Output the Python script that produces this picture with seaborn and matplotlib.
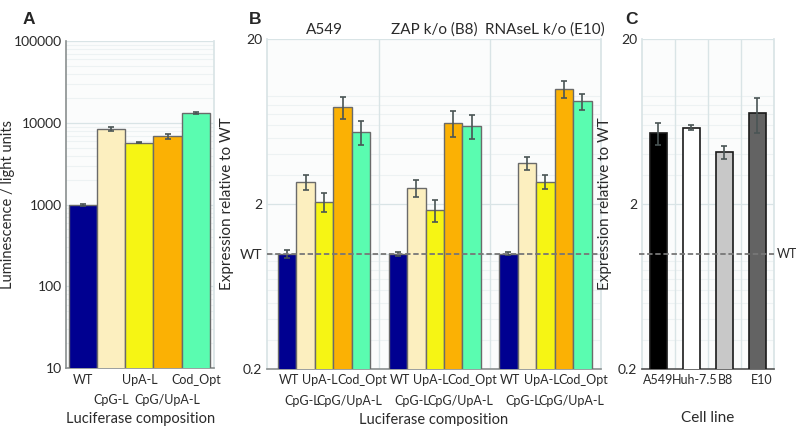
import numpy as np
import pandas as pd
import matplotlib
matplotlib.use('Agg')
import matplotlib.pyplot as plt
import seaborn as sns
from matplotlib.ticker import LogLocator, NullFormatter, FixedLocator

sns.set_theme(style='white')
plt.rcParams['font.family'] = ['Lato', 'DejaVu Sans']
plt.rcParams['font.size'] = 9.5

# constructs and colours
constructs = ['WT', 'CpG-L', 'UpA-L', 'CpG/UpA-L', 'Cod_Opt']
construct_colors = ['#000090', '#fcefbf', '#f6f514', '#fbb104', '#5afcb0']

# panel A: raw luminescence
lum_mean = [985, 8500, 5750, 6850, 13300]
lum_err = [25, 550, 60, 450, 350]

# panel B: expression relative to WT in three cell lines
cell_groups = ['A549', 'ZAP k/o (B8)', 'RNAseL k/o (E10)']
rel_mean = {
    'A549': [1.0, 2.72, 2.06, 7.74, 5.49],
    'ZAP k/o (B8)': [1.0, 2.50, 1.84, 6.20, 5.94],
    'RNAseL k/o (E10)': [1.0, 3.54, 2.74, 9.96, 8.38],
}
rel_err = {
    'A549': [0.06, 0.30, 0.28, 1.15, 0.90],
    'ZAP k/o (B8)': [0.03, 0.30, 0.28, 1.10, 0.95],
    'RNAseL k/o (E10)': [0.02, 0.33, 0.28, 1.20, 0.90],
}

# panel C: Cod_Opt relative to WT per cell line
cell_lines = ['A549', 'Huh-7.5', 'B8', 'E10']
cell_mean = [5.39, 5.82, 4.13, 7.13]
cell_err = [0.85, 0.23, 0.38, 1.70]
cell_colors = ['#000000', '#ffffff', '#c8c8c8', '#636363']

# construct labels alternate between an upper and a lower row
upper = [0, 2, 4]
lower = [1, 3]

txt = '#2a2a2a'
grid_major = '#d9e4e6'
grid_minor = '#edf2f3'
bg = '#fbfcfc'
err_kw = dict(fmt='none', ecolor='#4a5555', elinewidth=1.2, capsize=2.5, capthick=1.2, zorder=5)


def style_log_axis(ax):
    ax.set_facecolor(bg)
    ax.yaxis.set_minor_locator(LogLocator(base=10, subs=np.arange(2, 10)))
    ax.yaxis.set_minor_formatter(NullFormatter())
    ax.grid(True, which='major', axis='y', color=grid_major, lw=0.9)
    ax.grid(True, which='minor', axis='y', color=grid_minor, lw=0.8)
    ax.set_axisbelow(True)
    ax.spines['top'].set_visible(False)
    ax.spines['right'].set_color(grid_major)
    ax.spines['left'].set_color(grid_major)
    ax.spines['bottom'].set_color('#8a8f8f')
    ax.spines['bottom'].set_linewidth(1.2)
    ax.tick_params(axis='y', which='both', length=0, pad=3, labelsize=10, colors=txt)
    ax.tick_params(axis='x', which='major', length=0, pad=4, labelsize=9, colors=txt)
    ax.tick_params(axis='x', which='minor', length=0, pad=19, labelsize=9, colors=txt)


def staggered_labels(ax, centers):
    ax.set_xticks([centers[k] for k in range(len(centers)) if k % 5 in upper])
    ax.set_xticklabels([constructs[k % 5] for k in range(len(centers)) if k % 5 in upper])
    ax.set_xticks([centers[k] for k in range(len(centers)) if k % 5 in lower], minor=True)
    ax.set_xticklabels([constructs[k % 5] for k in range(len(centers)) if k % 5 in lower],
                       minor=True)


fig = plt.figure(figsize=(7.96, 4.26), dpi=100)
axA = fig.add_axes([0.083, 0.136, 0.186, 0.767])
axB = fig.add_axes([0.335, 0.134, 0.4196, 0.774])
axC = fig.add_axes([0.806, 0.134, 0.166, 0.774])

# ---- Panel A
dfA = pd.DataFrame({'construct': constructs, 'lum': lum_mean})
sns.barplot(data=dfA, x='construct', y='lum', hue='construct', palette=construct_colors,
            order=constructs, width=1.0, saturation=1, edgecolor='#6a6a6a', linewidth=1.0,
            legend=False, ax=axA, zorder=3)
axA.set_yscale('log')
axA.set_ylim(10, 100000)
axA.set_xlim(-0.6, 4.65)
style_log_axis(axA)
axA.spines['left'].set_color('#8a8f8f')
axA.spines['left'].set_linewidth(1.2)
axA.tick_params(axis='y', which='major', length=5, direction='in', color='#8a8f8f', width=1)
axA.tick_params(axis='y', which='minor', length=4, direction='in', color='#8a8f8f', width=0.8)
axA.yaxis.set_major_locator(FixedLocator([10, 100, 1000, 10000, 100000]))
axA.set_yticklabels(['10', '100', '1000', '10000', '100000'])
axA.errorbar(np.arange(len(constructs)), lum_mean, yerr=lum_err, **err_kw)
staggered_labels(axA, list(np.arange(len(constructs), dtype=float)))
axA.set_xlabel('Luciferase composition', fontsize=10.5, color=txt, labelpad=4)
axA.set_ylabel('Luminescence / light units', fontsize=10.5, color=txt)
axA.yaxis.set_label_coords(-0.345, 0.5)

# ---- Panel B
rowsB = []
for g in cell_groups:
    for c, v in zip(constructs, rel_mean[g]):
        rowsB.append({'cell': g, 'construct': c, 'rel': v})
dfB = pd.DataFrame(rowsB)
sns.barplot(data=dfB, x='cell', y='rel', hue='construct', order=cell_groups,
            hue_order=constructs, palette=construct_colors, width=0.835, saturation=1,
            edgecolor='#6a6a6a', linewidth=1.0, legend=False, ax=axB, zorder=3)
axB.set_yscale('log')
axB.set_ylim(0.2, 20)
axB.set_xlim(-0.52, 2.5)
style_log_axis(axB)
axB.yaxis.set_major_locator(FixedLocator([0.2, 1, 2, 20]))
axB.set_yticklabels(['0.2', 'WT', '2', '20'])
# small nudges (in px) of the staggered labels so they do not collide
nudgeB = [2, -4, -4, 7, 1]
pxB = 334 / 3.02
bar_conts = list(axB.containers)
centersB = [0.0] * (len(cell_groups) * len(constructs))
for j, cont in enumerate(bar_conts):
    xs = [b.get_x() + b.get_width() / 2 for b in cont]
    for i, g in enumerate(cell_groups):
        centersB[i * 5 + j] = xs[i] + nudgeB[j] / pxB
    axB.errorbar(xs, [rel_mean[g][j] for g in cell_groups],
                 yerr=[rel_err[g][j] for g in cell_groups], **err_kw)
staggered_labels(axB, centersB)
for x in [0.5, 1.5]:
    axB.axvline(x, color=grid_major, lw=1.0, zorder=1)
axB.axhline(1, color='#777777', ls=(0, (3, 1.5)), lw=1.3, zorder=6)
for i, g in enumerate(cell_groups):
    axB.text(i, 1.008, g, transform=axB.get_xaxis_transform(), ha='center', va='bottom',
             fontsize=11, color=txt)
axB.set_xlabel('Luciferase composition', fontsize=10.5, color=txt, labelpad=4)
axB.set_ylabel('Expression relative to WT', fontsize=11, color=txt, labelpad=4)

# ---- Panel C
dfC = pd.DataFrame({'cell': cell_lines, 'rel': cell_mean})
sns.barplot(data=dfC, x='cell', y='rel', hue='cell', palette=cell_colors, order=cell_lines,
            width=0.52, saturation=1, edgecolor='#1a1a1a', linewidth=1.2, legend=False,
            ax=axC, zorder=3)
axC.set_yscale('log')
axC.set_ylim(0.2, 20)
axC.set_xlim(-0.5, 3.5)
style_log_axis(axC)
axC.spines['bottom'].set_color('#555555')
axC.yaxis.set_major_locator(FixedLocator([0.2, 2, 20]))
axC.set_yticklabels(['0.2', '2', '20'])
axC.errorbar(np.arange(len(cell_lines)), cell_mean, yerr=cell_err, **err_kw)
nudgeC = [0, 4, 1, 4]
axC.set_xticks(np.arange(len(cell_lines)) + np.array(nudgeC) / 33.0)
axC.set_xticklabels(cell_lines)
for x in [0.5, 1.5, 2.5]:
    axC.axvline(x, color=grid_major, lw=1.0, zorder=1)
axC.axhline(1, xmin=-0.02, xmax=1.0, color='#777777', ls=(0, (3, 1.5)), lw=1.3, zorder=6,
            clip_on=False)
axC.text(1.025, 1, 'WT', transform=axC.get_yaxis_transform(), ha='left', va='center',
         fontsize=9, color=txt)
axC.set_xlabel('Cell line', fontsize=11, color=txt, labelpad=18)
axC.set_ylabel('Expression relative to WT', fontsize=11, color=txt, labelpad=4)

# panel letters
for lab, x in [('A', 0.028), ('B', 0.313), ('C', 0.786)]:
    fig.text(x, 0.955, lab, fontsize=12.5, fontweight='bold', family='Liberation Sans',
             ha='left', va='center')

fig.savefig('out.png', dpi=100)
